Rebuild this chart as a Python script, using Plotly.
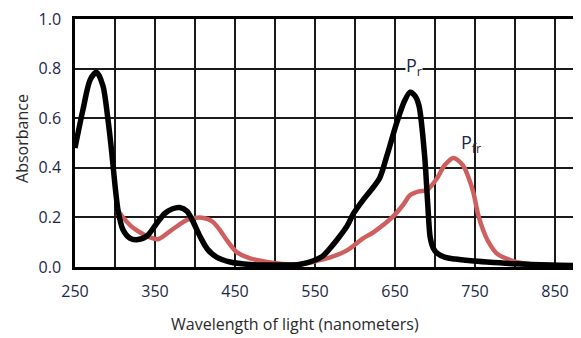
import plotly.graph_objects as go

# Pr (red-absorbing form) absorbance spectrum
pr_wavelength = [250, 260, 269, 277, 285, 291, 296, 300, 304, 310, 319, 327, 340, 352, 362, 372, 381,
                 390, 398, 406, 416, 427, 444, 469, 500, 530, 548, 560, 570, 580, 590, 598, 610, 620,
                 631, 640, 652, 662, 669, 675, 680, 687, 691, 694, 698, 703, 712, 725, 745, 765, 800,
                 845, 882]
pr_absorbance = [0.48, 0.635, 0.755, 0.785, 0.73, 0.60, 0.46, 0.33, 0.225, 0.15, 0.115, 0.11, 0.125,
                 0.175, 0.215, 0.235, 0.24, 0.225, 0.18, 0.125, 0.07, 0.04, 0.02, 0.01, 0.008, 0.01,
                 0.025, 0.045, 0.08, 0.12, 0.165, 0.215, 0.27, 0.31, 0.36, 0.45, 0.58, 0.67, 0.705,
                 0.69, 0.65, 0.45, 0.25, 0.12, 0.075, 0.055, 0.04, 0.032, 0.025, 0.02, 0.013, 0.008,
                 0.006]

# Pfr (far-red-absorbing form) absorbance spectrum
pfr_wavelength = [304, 310, 320, 331, 343, 354, 369, 380, 390, 406, 416, 423, 432, 440, 452, 469, 490,
                  510, 535, 556, 570, 590, 610, 623, 648, 660, 669, 680, 690, 702, 712, 723, 735, 742,
                  748, 754, 760, 767, 777, 794, 810, 830]
pfr_absorbance = [0.225, 0.2, 0.165, 0.14, 0.12, 0.112, 0.145, 0.17, 0.19, 0.2, 0.193, 0.18, 0.145,
                  0.107, 0.06, 0.035, 0.02, 0.012, 0.012, 0.028, 0.04, 0.067, 0.115, 0.14, 0.205,
                  0.25, 0.29, 0.305, 0.31, 0.355, 0.41, 0.44, 0.41, 0.36, 0.3, 0.21, 0.15, 0.1,
                  0.055, 0.028, 0.015, 0.008]

x_tick_values = [250, 350, 450, 550, 650, 750, 850]
y_tick_values = [0.0, 0.2, 0.4, 0.6, 0.8, 1.0]

TICK_COLOR = "#1c2749"
FONT = "Open Sans"

fig = go.Figure()
fig.add_trace(go.Scatter(x=pfr_wavelength, y=pfr_absorbance, mode="lines",
                         line=dict(color="#cf5f5f", width=4.5, shape="spline", smoothing=0.8),
                         hoverinfo="skip"))
fig.add_trace(go.Scatter(x=pr_wavelength, y=pr_absorbance, mode="lines",
                         line=dict(color="#000000", width=5.5, shape="spline", smoothing=0.8),
                         hoverinfo="skip"))

grid = dict(showgrid=True, gridcolor="#1a1a1a", gridwidth=1.5)

# the page body has an 8px default margin, so the figure is sized/positioned to compensate
fig.update_layout(
    width=573, height=330,
    margin=dict(l=67, r=0, t=7, b=71),
    paper_bgcolor="white", plot_bgcolor="white",
    showlegend=False,
    font=dict(family=FONT, size=16, color=TICK_COLOR),
    xaxis=dict(range=[250, 882.5], tickvals=x_tick_values, ticks="", ticklabelstandoff=8,
               showline=True, linecolor="black", linewidth=2.5, mirror=True,
               zeroline=False, ticklabeloverflow="allow", **grid,
               minor=dict(tick0=250, dtick=50, showgrid=True, gridcolor="#1a1a1a", gridwidth=1.5),
               tickfont=dict(family=FONT, size=16, color=TICK_COLOR)),
    yaxis=dict(range=[0, 1], tickvals=y_tick_values, tickformat=".1f", ticks="",
               ticklabelstandoff=8, showline=True, linecolor="black", linewidth=2.5,
               zeroline=False, ticklabeloverflow="allow", **grid,
               tickfont=dict(family=FONT, size=16, color=TICK_COLOR)),
    annotations=[
        dict(text="Wavelength of light (nanometers)", xref="paper", yref="paper",
             x=0.435, y=-0.23, showarrow=False, xanchor="center", yanchor="middle",
             font=dict(family=FONT, size=16, color="#2a2a2a")),
        dict(text="Absorbance", xref="paper", yref="paper", textangle=-90,
             x=-0.105, y=0.52, showarrow=False, xanchor="center", yanchor="middle",
             font=dict(family=FONT, size=16, color="#2a2a2a")),
        dict(text="P<sub>r</sub>", x=674, y=0.81, xref="x", yref="y", showarrow=False,
             xanchor="center", yanchor="middle", bgcolor="white", borderpad=0,
             font=dict(family=FONT, size=18, color=TICK_COLOR)),
        dict(text="P<sub>fr</sub>", x=745, y=0.50, xref="x", yref="y", showarrow=False,
             xanchor="center", yanchor="middle", borderpad=0,
             font=dict(family=FONT, size=18, color=TICK_COLOR)),
    ],
)

fig.write_html("out.html")
